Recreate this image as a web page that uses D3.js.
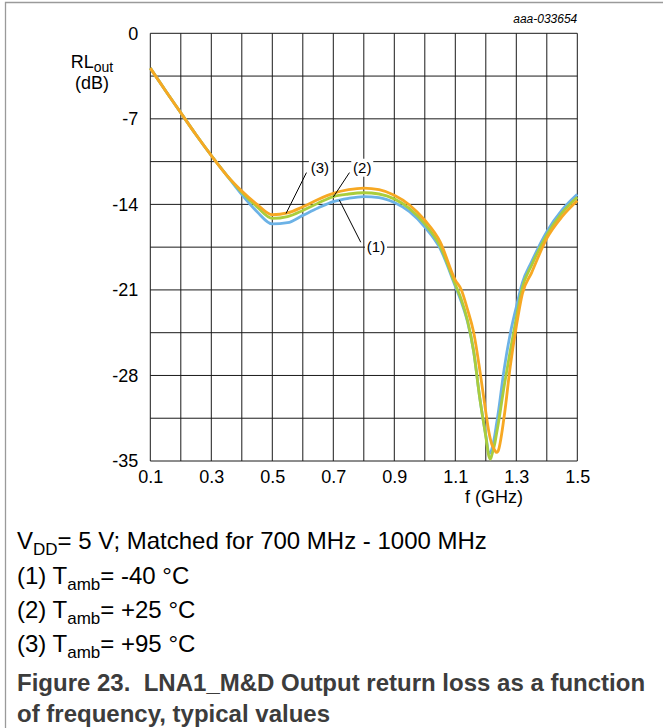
<!DOCTYPE html>
<html>
<head>
<meta charset="utf-8">
<script src="https://cdn.jsdelivr.net/npm/d3@7"></script>
<style>
    html, body { margin: 0; padding: 0; background: #fff; }
    svg { display: block; font-family: "Liberation Sans", Arial, sans-serif; }
</style>
</head>
<body>
<div id="chart"></div>
<script>
    // frequency points (GHz), shared by the three curves
    var freq = [0.10, 0.15, 0.20, 0.25, 0.30, 0.35, 0.40, 0.45, 0.50, 0.55, 0.60, 0.65, 0.70, 0.75,
        0.80, 0.85, 0.90, 0.95, 1.00, 1.05, 1.10, 1.12, 1.14, 1.16, 1.18, 1.20, 1.21, 1.215, 1.22,
        1.23, 1.235, 1.24, 1.26, 1.28, 1.30, 1.32, 1.35, 1.40, 1.45, 1.50];

    // RLout (dB)
    var rlMinus40 = [-2.85, -4.7, -6.5, -8.3, -10.0, -11.6, -13.2, -14.6, -15.6, -15.5, -14.9, -14.3, -13.77, -13.5,
        -13.36, -13.45, -13.85, -14.6, -15.85, -17.6, -20.7, -22.0, -23.6, -26.0, -29.8, -32.9, -34.3, -34.35, -34.0,
        -32.8, -32.0, -31.2, -27.5, -24.6, -22.4, -20.4, -18.7, -16.24, -14.46, -13.18];
    var rlPlus25 = [-2.85, -4.7, -6.5, -8.3, -10.0, -11.6, -13.0, -14.2, -15.15, -15.0, -14.5, -13.9, -13.36, -13.15,
        -13.05, -13.15, -13.55, -14.35, -15.6, -17.4, -20.55, -21.8, -23.5, -26.0, -29.8, -33.0, -34.6, -34.85, -34.5,
        -33.5, -32.8, -32.1, -28.9, -26.0, -23.3, -20.8, -19.0, -16.5, -14.7, -13.42];
    var rlPlus95 = [-2.85, -4.7, -6.5, -8.3, -10.0, -11.6, -12.9, -14.0, -14.85, -14.7, -14.2, -13.6, -13.1, -12.8,
        -12.67, -12.8, -13.25, -14.05, -15.3, -17.05, -20.2, -21.0, -22.6, -24.45, -27.5, -31.0, -32.6, -33.2, -33.65,
        -34.15, -34.3, -34.2, -31.4, -27.3, -24.0, -21.3, -19.6, -16.78, -15.0, -13.7];

    var xTicks = [0.1, 0.3, 0.5, 0.7, 0.9, 1.1, 1.3, 1.5];
    var yTicks = [0, -7, -14, -21, -28, -35];

(function () {
    'use strict';

    var W = 663, H = 728;
    var mLeft = 150.3, mRight = 577.3, mTop = 33.3, mBottom = 461;

    var svg = d3.select("#chart").append("svg")
        .attr("width", W)
        .attr("height", H);

    // outer frame (only top and left edges show)
    svg.append("path")
        .attr("d", "M5.5," + H + "V2.5H" + W)
        .attr("fill", "none")
        .attr("stroke", "#9a9a9a")
        .attr("stroke-width", 1.3);

    var x = d3.scaleLinear().domain([0.1, 1.5]).range([mLeft, mRight]),
        y = d3.scaleLinear().domain([-35, 0]).range([mBottom, mTop]);

    var xGrid = d3.range(1, 16).map(function (i) { return i / 10; }),
        yGrid = d3.range(0, 11).map(function (i) { return -3.5 * i; });

    var g = svg.append("g");

    // grid
    g.append("g").selectAll("line").data(xGrid).enter().append("line")
        .attr("x1", function (d) { return x(d); }).attr("x2", function (d) { return x(d); })
        .attr("y1", mTop).attr("y2", mBottom)
        .attr("stroke", "#1a1a1a").attr("stroke-width", 1);
    g.append("g").selectAll("line").data(yGrid).enter().append("line")
        .attr("y1", function (d) { return y(d); }).attr("y2", function (d) { return y(d); })
        .attr("x1", mLeft).attr("x2", mRight)
        .attr("stroke", "#1a1a1a").attr("stroke-width", 1);

    // tick labels via axes
    var xAxis = g.append("g")
        .attr("transform", "translate(0," + mBottom + ")")
        .call(d3.axisBottom(x).tickValues(xTicks).tickSize(0).tickPadding(12).tickFormat(d3.format(".1f")));
    var yAxis = g.append("g")
        .attr("transform", "translate(" + mLeft + ",0)")
        .call(d3.axisLeft(y).tickValues(yTicks).tickSize(0).tickPadding(12).tickFormat(d3.format("d")));
    [xAxis, yAxis].forEach(function (a) {
        a.select(".domain").remove();
        a.selectAll("text").attr("font-size", 18).attr("fill", "#000")
            .attr("font-family", "Liberation Sans, Arial, sans-serif");
    });
    xAxis.selectAll("text").attr("dy", "0.55em");
    yAxis.selectAll("text").text(function (d) { return d === 0 ? "0" : "-" + Math.abs(d); });

    // axis titles
    var yt = svg.append("text").attr("x", 92).attr("y", 68).attr("text-anchor", "middle").attr("font-size", 18);
    yt.append("tspan").text("RL");
    yt.append("tspan").attr("font-size", 14).attr("dy", 4).text("out");
    svg.append("text").attr("x", 92).attr("y", 89).attr("text-anchor", "middle").attr("font-size", 18).text("(dB)");
    svg.append("text").attr("x", 494).attr("y", 503).attr("text-anchor", "middle").attr("font-size", 18).text("f (GHz)");
    svg.append("text").attr("x", mRight).attr("y", 23).attr("text-anchor", "end")
        .attr("font-size", 12).attr("font-style", "italic").text("aaa-033654");

    // curves
    var series = [
        { id: "(1)", color: "#6cb2e6", values: rlMinus40 },
        { id: "(2)", color: "#aacd3c", values: rlPlus25 },
        { id: "(3)", color: "#f7a823", values: rlPlus95 }
    ];

    var line = d3.line()
        .curve(d3.curveMonotoneX)
        .x(function (d) { return x(d[0]); })
        .y(function (d) { return y(d[1]); });

    g.append("g").selectAll("path").data(series).enter().append("path")
        .attr("d", function (s) { return line(freq.map(function (f, i) { return [f, s.values[i]]; })); })
        .attr("fill", "none")
        .attr("stroke", function (s) { return s.color; })
        .attr("stroke-width", 2.8)
        .attr("stroke-linejoin", "round");

    // curve labels with leader lines (label pos, leader start, leader end on the curve)
    var labels = [
        { text: "(3)", lf: 0.656, lv: -11.0, sf: 0.612, sv: -11.4, ef: 0.545, ev: -14.75 },
        { text: "(2)", lf: 0.795, lv: -11.0, sf: 0.753, sv: -11.4, ef: 0.70, ev: -13.4 },
        { text: "(1)", lf: 0.84, lv: -17.5, sf: 0.79, sv: -17.1, ef: 0.72, ev: -13.65 }
    ];
    var lab = svg.append("g").selectAll("g").data(labels).enter().append("g");
    lab.append("rect")
        .attr("x", function (d) { return x(d.lf) - 11; })
        .attr("y", function (d) { return y(d.lv) - 9; })
        .attr("width", 22).attr("height", 18)
        .attr("fill", "#fff");
    lab.append("line")
        .attr("x1", function (d) { return x(d.sf); }).attr("y1", function (d) { return y(d.sv); })
        .attr("x2", function (d) { return x(d.ef); }).attr("y2", function (d) { return y(d.ev); })
        .attr("stroke", "#000").attr("stroke-width", 1);
    lab.append("text")
        .attr("x", function (d) { return x(d.lf); })
        .attr("y", function (d) { return y(d.lv) + 5; })
        .attr("text-anchor", "middle")
        .attr("font-size", 15)
        .text(function (d) { return d.text; });

    // notes under the chart
    var notes = [
        { pre: "V", sub: "DD", post: "= 5 V; Matched for 700 MHz - 1000 MHz", y: 549 },
        { pre: "(1) T", sub: "amb", post: "= -40 °C", y: 584 },
        { pre: "(2) T", sub: "amb", post: "= +25 °C", y: 618 },
        { pre: "(3) T", sub: "amb", post: "= +95 °C", y: 652 }
    ];
    notes.forEach(function (n) {
        var t = svg.append("text").attr("x", 17).attr("y", n.y).attr("font-size", 24).attr("fill", "#000");
        t.append("tspan").text(n.pre);
        t.append("tspan").attr("font-size", 17).attr("dy", 6).text(n.sub);
        t.append("tspan").attr("dy", -6).text(n.post);
    });

    svg.append("text").attr("x", 17).attr("y", 691).attr("font-size", 24).attr("font-weight", "bold")
        .attr("fill", "#3c3c3c").style("white-space", "pre")
        .text("Figure 23.  LNA1_M&D Output return loss as a function");
    svg.append("text").attr("x", 17).attr("y", 722).attr("font-size", 24).attr("font-weight", "bold")
        .attr("fill", "#3c3c3c").text("of frequency, typical values");
})();
</script>
</body>
</html>
